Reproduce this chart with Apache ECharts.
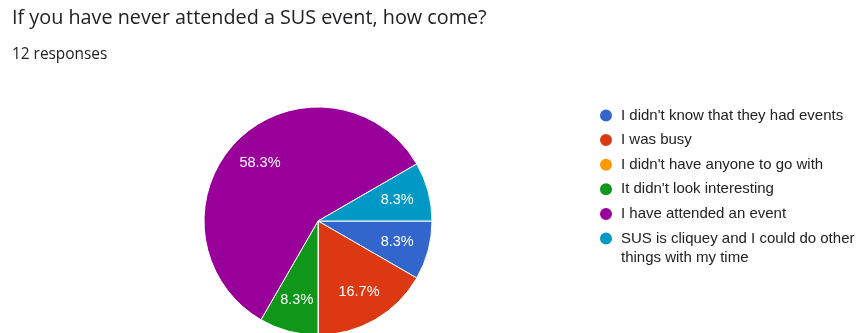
<!DOCTYPE html>
<html>
<head>
<meta charset="utf-8">
<script src="https://cdn.jsdelivr.net/npm/echarts@6/dist/echarts.min.js"></script>
<style>html,body{margin:0;padding:0;background:#fff;}#c{width:856px;height:333px;}</style>
</head>
<body>
<div id="c"></div>
<script>
const titleText = 'If you have never attended a SUS event, how come?';
const subtitleText = '12 responses';
const categories = [
  "I didn't know that they had events",
  "I was busy",
  "I didn't have anyone to go with",
  "It didn't look interesting",
  "I have attended an event",
  "SUS is cliquey and I could do other things with my time"
];
// legend wraps the last label onto two lines
const lastLabelLines = ['SUS is cliquey and I could do other', 'things with my time'];
const counts = [1, 2, 0, 1, 7, 1];
const colors = ['#3366cc', '#dc3912', '#ff9900', '#109618', '#990099', '#0099c6'];

const chart = echarts.init(document.getElementById('c'), null, {renderer: 'canvas'});
const data = categories.map((n, i) => ({name: n, value: counts[i], itemStyle: {color: colors[i]}}));
const labelData = categories.map((n, i) => ({name: n, value: counts[i]}));
const TFONT = '"Open Sans", Roboto, sans-serif';
const AFONT = '"Liberation Sans", Arial, sans-serif';
chart.setOption({
  animation: false,
  title: [
    {text: titleText, left: 12, top: 8.5, padding: 0, textStyle: {fontFamily: TFONT, fontSize: 19.8, fontWeight: 'normal', color: '#202124'}},
    {text: subtitleText, left: 12, top: 47.5, padding: 0, textStyle: {fontFamily: TFONT, fontSize: 15.4, fontWeight: 'normal', color: '#202124'}}
  ],
  legend: {
    orient: 'vertical', left: 598, top: 107.5, height: 220, padding: 0,
    itemWidth: 14, itemHeight: 14, itemGap: 8.6, icon: 'circle',
    textStyle: {fontFamily: AFONT, fontSize: 15, color: '#222', lineHeight: 14, height: 14, padding: [0, 0, 0, 3]},
    data: categories,
    formatter: n => n === categories[5] ? lastLabelLines[0] : n
  },
  graphic: [{
    type: 'text', left: 621, top: 250,
    style: {text: lastLabelLines[1], fontFamily: AFONT, fontSize: 15, fill: '#222'}
  }],
  series: [
    {
      type: 'pie', center: [318, 221], radius: 114, startAngle: 0, clockwise: true,
      label: {show: false}, labelLine: {show: false},
      itemStyle: {borderColor: '#fff', borderWidth: 1},
      emphasis: {disabled: true},
      data: data
    },
    {
      type: 'pie', center: [318, 221], radius: [44, 114], startAngle: 0, clockwise: true,
      silent: true, legendHoverLink: false,
      itemStyle: {color: 'rgba(0,0,0,0)', borderWidth: 0},
      labelLine: {show: false},
      label: {show: true, position: 'inside', fontFamily: AFONT, fontSize: 14.5, color: '#fff',
        formatter: p => p.value ? p.percent.toFixed(1) + '%' : ''},
      emphasis: {disabled: true},
      data: labelData
    }
  ]
});
</script>
</body>
</html>
